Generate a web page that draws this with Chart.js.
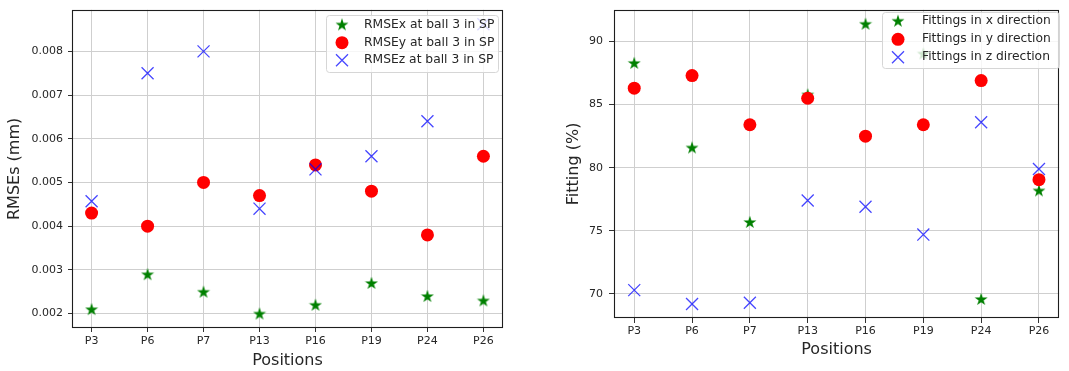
<!DOCTYPE html>
<html><head><meta charset="utf-8">
<script src="https://cdn.jsdelivr.net/npm/chart.js@4.4.1/dist/chart.umd.min.js"></script>
<style>
html,body{margin:0;padding:0;background:#fff;width:1069px;height:371px;overflow:hidden}
canvas{position:absolute;top:0}
#c1{left:0}
#c2{left:535px}
</style></head><body>
<canvas id="c1" width="535" height="371"></canvas>
<canvas id="c2" width="534" height="371"></canvas>
<script>
// ---------- data ----------
const categories = ['P3','P6','P7','P13','P16','P19','P24','P26'];
const rmseX = [0.0021,0.0029,0.0025,0.0020,0.0022,0.0027,0.0024,0.0023];
const rmseY = [0.0043,0.0040,0.0050,0.0047,0.0054,0.0048,0.0038,0.0056];
const rmseZ = [0.00457,0.0075,0.0080,0.0044,0.0053,0.0056,0.0064,0.00862];
const rmseTicks = [0.002,0.003,0.004,0.005,0.006,0.007,0.008];
const fitX = [88.3,81.6,75.7,85.8,91.4,89.05,69.6,78.2];
const fitY = [86.3,87.3,83.4,85.5,82.5,83.4,86.9,79.05];
const fitZ = [70.3,69.2,69.3,77.4,76.9,74.7,83.6,79.9];
const fitTicks = [70,75,80,85,90];
const legend1 = ['RMSEx at ball 3 in SP','RMSEy at ball 3 in SP','RMSEz at ball 3 in SP'];
const legend2 = ['Fittings in x direction','Fittings in y direction','Fittings in z direction'];

// ---------- styles ----------
const FONT = '"DejaVu Sans", sans-serif';
const TXT = '#262626';
const GREEN = '#008000', RED = '#ff0000', BLUE = 'rgba(0,0,255,0.72)';

function starPath(ctx, cx, cy, R) {
  const r = R * 0.381966;
  ctx.beginPath();
  for (let k = 0; k < 10; k++) {
    const rad = k % 2 === 0 ? R : r;
    const a = -Math.PI / 2 + k * Math.PI / 5;
    const px = cx + rad * Math.cos(a), py = cy + rad * Math.sin(a);
    if (k === 0) ctx.moveTo(px, py); else ctx.lineTo(px, py);
  }
  ctx.closePath();
}
const starImg = document.createElement('canvas');
starImg.width = 14; starImg.height = 14;
(function(){ const c = starImg.getContext('2d'); starPath(c, 7, 7.6, 6.8); c.fillStyle = GREEN; c.fill(); })();

function span(vals) {
  const mn = Math.min(...vals), mx = Math.max(...vals), m = (mx - mn) * 0.05;
  return [mn - m, mx + m];
}

function framePlugin() {
  return { id: 'frame', afterDraw(chart) {
    const a = chart.chartArea, ctx = chart.ctx;
    ctx.save(); ctx.strokeStyle = '#1e1e1e'; ctx.lineWidth = 1.1;
    ctx.strokeRect(Math.round(a.left) + 0.5, Math.round(a.top) + 0.5,
      Math.round(a.right - a.left) - 1, Math.round(a.bottom - a.top) - 1);
    ctx.restore();
  }};
}

function legendPlugin(labels, b) {
  return { id: 'lg', afterDraw(chart) {
    const ctx = chart.ctx; ctx.save();
    ctx.beginPath();
    if (ctx.roundRect) ctx.roundRect(b.x + 0.5, b.y + 0.5, b.w, b.h, 3); else ctx.rect(b.x + 0.5, b.y + 0.5, b.w, b.h);
    ctx.fillStyle = 'rgba(255,255,255,0.8)'; ctx.fill();
    ctx.strokeStyle = '#d6d6d6'; ctx.lineWidth = 1; ctx.stroke();
    // markers
    ctx.drawImage(starImg, b.mx - 7, b.rows[0] - 7.6);
    ctx.beginPath(); ctx.arc(b.mx, b.rows[1], 6.5, 0, Math.PI * 2); ctx.fillStyle = RED; ctx.fill();
    const d = 6;
    ctx.beginPath(); ctx.moveTo(b.mx - d, b.rows[2] - d); ctx.lineTo(b.mx + d, b.rows[2] + d);
    ctx.moveTo(b.mx + d, b.rows[2] - d); ctx.lineTo(b.mx - d, b.rows[2] + d);
    ctx.strokeStyle = BLUE; ctx.lineWidth = 1.3; ctx.stroke();
    ctx.font = '12.3px ' + FONT; ctx.fillStyle = TXT; ctx.textBaseline = 'middle'; ctx.textAlign = 'left';
    labels.forEach((t, i) => ctx.fillText(t, b.tx, b.rows[i]));
    ctx.restore();
  }};
}

function toPts(vals) { return vals.map((v, i) => ({ x: i, y: v })); }

function makeChart(id, o) {
  const [ymin, ymax] = span(o.x.concat(o.y, o.z));
  return new Chart(document.getElementById(id), {
    type: 'scatter',
    data: { datasets: [
      { label: o.labels[0], data: toPts(o.x), pointStyle: starImg, order: 3 },
      { label: o.labels[1], data: toPts(o.y), pointStyle: 'circle', pointRadius: 6.5, backgroundColor: RED, borderColor: RED, borderWidth: 0, order: 2 },
      { label: o.labels[2], data: toPts(o.z), pointStyle: 'crossRot', pointRadius: 8.5, borderColor: BLUE, backgroundColor: BLUE, borderWidth: 1.3, order: 1 }
    ]},
    options: {
      responsive: false, animation: false, devicePixelRatio: 1,
      layout: { padding: { top: o.padTop, right: o.padRight, left: 0, bottom: 0 } },
      plugins: { legend: { display: false }, tooltip: { enabled: false } },
      scales: {
        x: {
          type: 'linear', min: -0.35, max: 7.35,
          afterBuildTicks: s => { s.ticks = categories.map((c, i) => ({ value: i })); },
          afterFit: s => { s.height = o.xHeight; s.paddingLeft = 0; s.paddingRight = 0; },
          ticks: { callback: v => categories[v], font: { family: FONT, size: 11 }, color: TXT, padding: o.xTickPad, maxRotation: 0, autoSkip: false },
          grid: { color: '#cfcfcf', lineWidth: 1, tickLength: o.tickLen, tickColor: '#333', drawTicks: true },
          border: { display: false },
          title: { display: true, text: 'Positions', font: { family: FONT, size: 16 }, color: TXT, padding: { top: 0, bottom: o.xTitlePad } }
        },
        y: {
          type: 'linear', min: ymin, max: ymax,
          afterBuildTicks: s => { s.ticks = o.ticks.map(v => ({ value: v })); },
          afterFit: s => { s.width = o.yWidth; s.paddingTop = 0; s.paddingBottom = 0; },
          ticks: { callback: o.fmt, font: { family: FONT, size: 11 }, color: TXT, padding: o.yTickPad },
          grid: { color: '#cfcfcf', lineWidth: 1, tickLength: o.tickLen, tickColor: '#333', drawTicks: true },
          border: { display: false },
          title: { display: true, text: o.yTitle, font: { family: FONT, size: 16 }, color: TXT, padding: { top: o.yTitlePad, bottom: 0 } }
        }
      }
    },
    plugins: [framePlugin(), legendPlugin(o.labels, o.box)]
  });
}

makeChart('c1', {
  x: rmseX, y: rmseY, z: rmseZ, labels: legend1, ticks: rmseTicks,
  fmt: v => v.toFixed(3), yTitle: 'RMSEs (mm)',
  padTop: 8, padRight: 32, xHeight: 43, yWidth: 72, tickLen: 4, xTickPad: 3, yTickPad: 5,
  xTitlePad: 1, yTitlePad: 5,
  box: { x: 326, y: 15, w: 172, h: 57, mx: 342, tx: 364, rows: [25, 42.7, 60.3] }
});
makeChart('c2', {
  x: fitX, y: fitY, z: fitZ, labels: legend2, ticks: fitTicks,
  fmt: v => String(Math.round(v)), yTitle: 'Fitting (%)',
  padTop: 6, padRight: 5, xHeight: 53, yWidth: 79, tickLen: 5, xTickPad: 2, yTickPad: 6,
  xTitlePad: 12, yTitlePad: 29,
  box: { x: 347, y: 12, w: 177, h: 56, mx: 363, tx: 387, rows: [21.3, 39.3, 57.3] }
});
</script>
</body></html>
